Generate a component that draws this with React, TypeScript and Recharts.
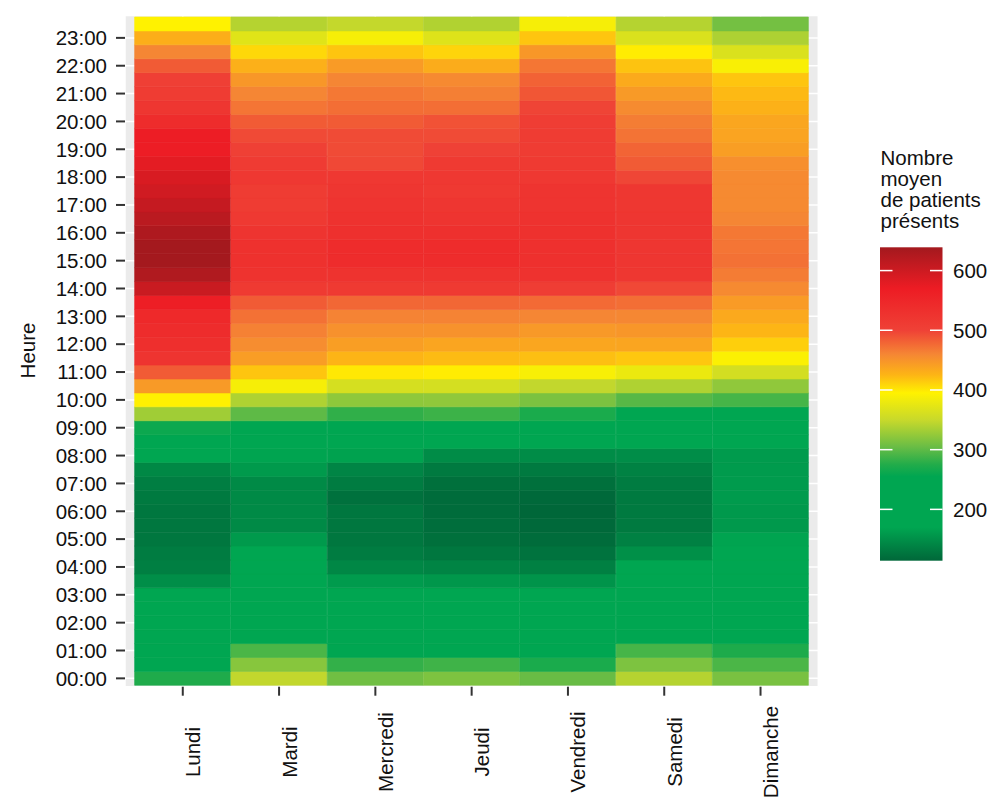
import React from 'react';
import { BarChart, Bar, XAxis, YAxis, CartesianGrid, Cell, Customized } from 'recharts';

const DAYS = ['Lundi', 'Mardi', 'Mercredi', 'Jeudi', 'Vendredi', 'Samedi', 'Dimanche'];

const HOUR_LABELS = [
  '00:00', '01:00', '02:00', '03:00', '04:00', '05:00', '06:00', '07:00',
  '08:00', '09:00', '10:00', '11:00', '12:00', '13:00', '14:00', '15:00',
  '16:00', '17:00', '18:00', '19:00', '20:00', '21:00', '22:00', '23:00',
];

// Half-hour slots, index 0 = 00:00, 47 = 23:30
const LUNDI = [
  273, 225, 215, 210, 205, 205, 200, 149, 135, 133, 128, 128,
  128, 131, 134, 143, 170, 200, 262, 331, 396, 445, 485, 524,
  535, 540, 545, 566, 604, 627, 638, 638, 629, 618, 607, 597,
  590, 578, 568, 568, 540, 520, 510, 503, 485, 460, 430, 395,
];
const MARDI = [
  347, 319, 292, 215, 210, 205, 205, 200, 190, 180, 159, 145,
  145, 145, 145, 159, 168, 200, 240, 300, 338, 388, 417, 443,
  455, 463, 472, 485, 514, 526, 531, 531, 524, 516, 510, 510,
  517, 512, 502, 495, 485, 470, 460, 447, 429, 408, 370, 341,
];
const MERCREDI = [
  308, 282, 215, 210, 205, 200, 195, 160, 142, 133, 128, 128,
  128, 123, 133, 141, 166, 200, 235, 281, 322, 361, 400, 426,
  442, 452, 462, 478, 514, 526, 540, 540, 533, 528, 524, 520,
  517, 496, 494, 494, 485, 474, 468, 460, 444, 417, 388, 348,
];
const JEUDI = [
  314, 287, 215, 210, 205, 200, 195, 157, 140, 128, 122, 120,
  118, 118, 122, 131, 147, 200, 240, 286, 323, 360, 398, 422,
  437, 451, 462, 478, 514, 526, 540, 540, 533, 524, 520, 515,
  517, 514, 500, 494, 490, 474, 464, 457, 432, 410, 368, 339,
];
const VENDREDI = [
  304, 270, 212, 210, 205, 200, 192, 154, 136, 125, 118, 116,
  114, 116, 122, 131, 147, 200, 235, 270, 313, 347, 389, 420,
  436, 446, 460, 476, 508, 529, 533, 533, 531, 528, 524, 524,
  517, 514, 510, 510, 508, 498, 488, 481, 469, 447, 417, 388,
];
const SAMEDI = [
  341, 314, 290, 210, 205, 205, 200, 195, 185, 150, 137, 131,
  131, 131, 133, 138, 148, 200, 230, 245, 297, 338, 379, 416,
  437, 448, 459, 474, 496, 518, 521, 521, 521, 521, 519, 518,
  497, 485, 480, 471, 465, 456, 445, 433, 418, 398, 365, 341,
];
const DIMANCHE = [
  312, 292, 272, 215, 210, 210, 205, 200, 190, 180, 168, 158,
  158, 160, 160, 160, 160, 200, 230, 245, 290, 323, 359, 392,
  412, 425, 434, 444, 457, 466, 472, 470, 468, 460, 457, 457,
  457, 453, 442, 438, 436, 428, 423, 417, 390, 365, 337, 310,
];

const VALUES = [LUNDI, MARDI, MERCREDI, JEUDI, VENDREDI, SAMEDI, DIMANCHE];
const LEGEND_TICKS = [200, 300, 400, 500, 600];
const VMIN = 114;
const VMAX = 639;

const STOPS: [number, string][] = [
  [114, '#006739'],
  [170, '#00a651'],
  [255, '#00a651'],
  [275, '#22ac4a'],
  [305, '#6abd45'],
  [350, '#c8d92b'],
  [395, '#fff200'],
  [425, '#fdb515'],
  [460, '#f58634'],
  [500, '#ef4136'],
  [570, '#ed1c24'],
  [639, '#a3191e'],
];

function hex(c: string) {
  return [parseInt(c.slice(1, 3), 16), parseInt(c.slice(3, 5), 16), parseInt(c.slice(5, 7), 16)];
}
function colorOf(v: number): string {
  if (v <= STOPS[0][0]) return STOPS[0][1];
  for (let i = 1; i < STOPS.length; i++) {
    if (v <= STOPS[i][0]) {
      const [v0, c0] = STOPS[i - 1];
      const [v1, c1] = STOPS[i];
      const t = (v - v0) / (v1 - v0);
      const a = hex(c0);
      const b = hex(c1);
      const r = a.map((x, k) => Math.round(x + (b[k] - x) * t));
      return `rgb(${r[0]},${r[1]},${r[2]})`;
    }
  }
  return STOPS[STOPS.length - 1][1];
}

const SLOT_KEYS = LUNDI.map((_, i) => 's' + i);
const data = DAYS.map((day) => {
  const row: Record<string, any> = { day };
  SLOT_KEYS.forEach((k) => (row[k] = 1));
  return row;
});

const Y_TICKS = HOUR_LABELS.map((_, i) => i * 2 + 0.5);

const FONT = '"Liberation Sans", Arial, Helvetica, sans-serif';
const FS = 20.5;

const XTick = (props: any) => {
  const { x, payload } = props;
  const tx = x + 17.5;
  const ty = 752;
  return (
    <text
      x={tx}
      y={ty}
      transform={`rotate(-90, ${tx}, ${ty})`}
      textAnchor="middle"
      fontFamily={FONT}
      fontSize={FS}
      fill="#111"
    >
      {payload.value}
    </text>
  );
};

const Extras = () => {
  const barX = 880;
  const barW = 62.5;
  const barTop = 247.3;
  const barH = 313.4;
  const yOf = (v: number) => barTop + barH - ((v - VMIN) / (VMAX - VMIN)) * barH;
  return (
    <g>
      <defs>
        <linearGradient id="cbar" x1="0" y1="0" x2="0" y2="1">
          {STOPS.slice().reverse().map(([v, c], i) => (
            <stop key={i} offset={(VMAX - v) / (VMAX - VMIN)} stopColor={c} />
          ))}
        </linearGradient>
      </defs>
      <text
        x={35}
        y={350.5}
        transform="rotate(-90, 35, 350.5)"
        textAnchor="middle"
        fontFamily={FONT}
        fontSize={FS}
        fill="#111"
      >
        Heure
      </text>
      {['Nombre', 'moyen', 'de patients', 'présents'].map((t, i) => (
        <text key={t} x={880.5} y={165 + i * 21} fontFamily={FONT} fontSize={FS} fill="#111">
          {t}
        </text>
      ))}
      <rect x={barX} y={barTop} width={barW} height={barH} fill="url(#cbar)" />
      {LEGEND_TICKS.map((v) => (
        <g key={v}>
          <line x1={barX} x2={barX + barW / 5} y1={yOf(v)} y2={yOf(v)} stroke="#fff" strokeWidth={1.5} />
          <line x1={barX + barW - barW / 5} x2={barX + barW} y1={yOf(v)} y2={yOf(v)} stroke="#fff" strokeWidth={1.5} />
          <text x={953} y={yOf(v)} dy="0.36em" fontFamily={FONT} fontSize={FS} fill="#111">
            {v}
          </text>
        </g>
      ))}
    </g>
  );
};

export default function App() {
  return (
    <div style={{ width: 993, height: 797, overflow: 'hidden' }}>
      <style>{'html,body{margin:0;padding:0;overflow:hidden;}'}</style>
      <BarChart
        width={993}
        height={797}
        data={data}
        margin={{ top: 15.6, right: 174.7, bottom: 10, left: 0 }}
        barCategoryGap={0}
        barGap={0}
      >
        <CartesianGrid fill="#ebebeb" fillOpacity={1} stroke="#ffffff" strokeWidth={1.5} />
        <XAxis
          dataKey="day"
          type="category"
          padding={{ left: 9.63, right: 9.63 }}
          height={100.3}
          tickSize={9}
          axisLine={false}
          tickLine={{ stroke: '#333', strokeWidth: 2 }}
          tick={<XTick />}
          interval={0}
        />
        <YAxis
          type="number"
          domain={[-0.1, 48.1]}
          allowDataOverflow
          ticks={Y_TICKS}
          interval={0}
          tickFormatter={(v: number) => HOUR_LABELS[Math.round((v - 0.5) / 2)]}
          width={125}
          tickSize={9}
          tickMargin={9}
          axisLine={false}
          tickLine={{ stroke: '#333', strokeWidth: 2 }}
          tick={{ fontSize: FS, fill: '#111', fontFamily: FONT }}
        />
        {SLOT_KEYS.map((k, i) => (
          <Bar key={k} dataKey={k} stackId="a" isAnimationActive={false}>
            {DAYS.map((d, j) => {
              const c = colorOf(VALUES[j][i]);
              return <Cell key={d} fill={c} stroke={c} strokeWidth={0.6} />;
            })}
          </Bar>
        ))}
        <Customized component={Extras} />
      </BarChart>
    </div>
  );
}
